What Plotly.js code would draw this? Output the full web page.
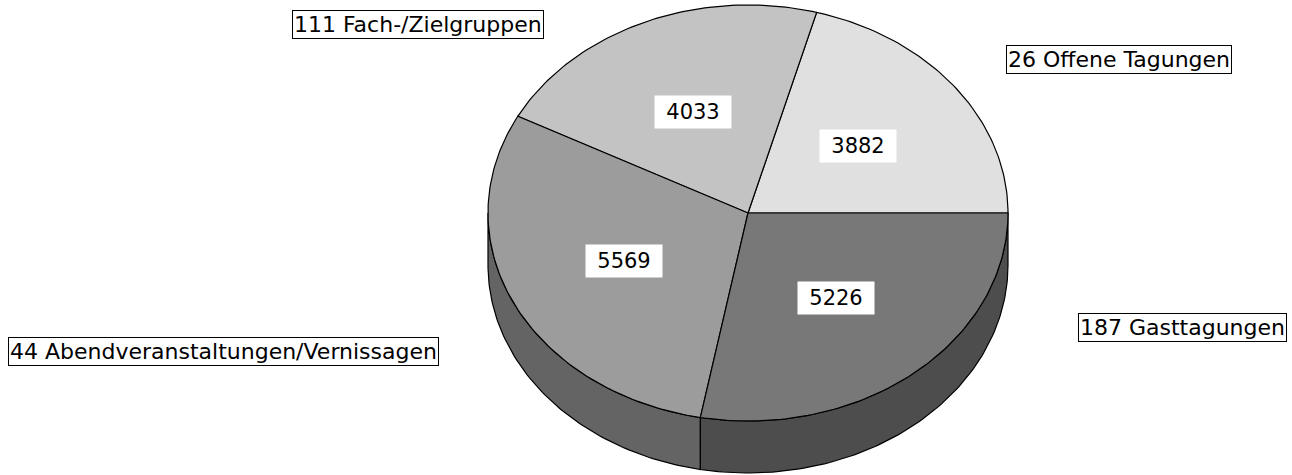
<!DOCTYPE html>
<html>
<head>
<meta charset="utf-8">
<script src="https://cdn.plot.ly/plotly-3.0.1.min.js"></script>
<style>html,body{margin:0;padding:0;background:#fff;}#chart{width:1292px;height:475px;}</style>
</head>
<body>
<div id="chart"></div>
<script>
// ---- data ----
const categories = ['26 Offene Tagungen', '111 Fach-/Zielgruppen', '44 Abendveranstaltungen/Vernissagen', '187 Gasttagungen'];
const values = [3882, 4033, 5569, 5226];

// ---- styles / geometry of the 3D pie ----
const topColors = ['#e0e0e0', '#c3c3c3', '#9c9c9c', '#787878'];
const sideColors = ['#909090', '#7d7d7d', '#646464', '#4d4d4d'];
const geo = {cx: 748, cy: 213, rx: 260, ry: 208, depth: 52, start: 0, labelR: 0.53};
const catLabelPos = [[1119, 59], [418, 24], [223, 351], [1182, 327]];
const FONT = 'DejaVu Sans, Liberation Sans, sans-serif';

const total = values.reduce((a, b) => a + b, 0);
function pt(deg, dy) {
  const t = deg * Math.PI / 180;
  return [geo.cx + geo.rx * Math.cos(t), geo.cy - geo.ry * Math.sin(t) + (dy || 0)];
}
function arc(a, b, dy) {
  const pts = [];
  const n = Math.max(2, Math.ceil(Math.abs(b - a)));
  for (let i = 0; i <= n; i++) pts.push(pt(a + (b - a) * i / n, dy));
  return pts;
}

const slices = [];
let acc = geo.start;
values.forEach((v, i) => {
  const span = v / total * 360;
  slices.push({a: acc, b: acc + span, i});
  acc += span;
});

const traces = [];
// side walls (front half, 180..360)
slices.forEach(s => {
  const a = Math.max(s.a, 180), b = Math.min(s.b, 360);
  if (b <= a) return;
  const pts = arc(a, b, 0).concat(arc(b, a, geo.depth));
  pts.push(pts[0]);
  traces.push({
    type: 'scatter', mode: 'lines', fill: 'toself', fillcolor: sideColors[s.i],
    x: pts.map(p => p[0]), y: pts.map(p => p[1]),
    line: {color: '#000', width: 1.2}, hoverinfo: 'skip'
  });
});
// top faces
slices.forEach(s => {
  const pts = [[geo.cx, geo.cy]].concat(arc(s.a, s.b, 0));
  pts.push([geo.cx, geo.cy]);
  traces.push({
    type: 'scatter', mode: 'lines', fill: 'toself', fillcolor: topColors[s.i],
    x: pts.map(p => p[0]), y: pts.map(p => p[1]),
    line: {color: '#000', width: 1.2}, hoverinfo: 'skip', name: categories[s.i]
  });
});

const annotations = [];
slices.forEach(s => {
  const mid = (s.a + s.b) / 2 * Math.PI / 180;
  annotations.push({
    x: geo.cx + geo.labelR * geo.rx * Math.cos(mid),
    y: geo.cy - geo.labelR * geo.ry * Math.sin(mid),
    xref: 'x', yref: 'y', showarrow: false,
    text: String(values[s.i]),
    font: {family: FONT, size: 21, color: '#000'},
    bgcolor: '#ffffff', width: 72, height: 28, borderpad: 2
  });
});
categories.forEach((c, i) => {
  annotations.push({
    x: catLabelPos[i][0], y: catLabelPos[i][1], xref: 'x', yref: 'y', showarrow: false,
    text: c, font: {family: FONT, size: 22, color: '#000'},
    bgcolor: '#ffffff', bordercolor: '#000', borderwidth: 1, borderpad: 1, height: 25
  });
});

const layout = {
  width: 1292, height: 475,
  margin: {l: 0, r: 0, t: 0, b: 0},
  paper_bgcolor: '#fff', plot_bgcolor: '#fff',
  showlegend: false,
  xaxis: {range: [0, 1292], visible: false, fixedrange: true},
  yaxis: {range: [475, 0], visible: false, fixedrange: true},
  annotations: annotations
};
Plotly.newPlot('chart', traces, layout, {staticPlot: true, displayModeBar: false});
</script>
</body>
</html>
